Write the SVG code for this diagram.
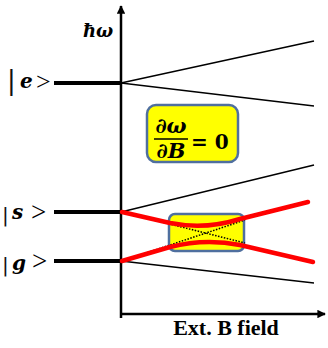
<svg xmlns="http://www.w3.org/2000/svg" width="328" height="348" viewBox="0 0 328 348">
<style>
.lbl{font-family:"DejaVu Serif","Liberation Serif",serif;fill:#000}
.bar{font-family:"DejaVu Sans","Liberation Sans",sans-serif;fill:#111}
.gt{font-family:"Liberation Serif","DejaVu Serif",serif;fill:#000}
.bi{font-weight:bold;font-style:italic}
.lvl{stroke:#000;stroke-width:4;fill:none}
.thin{stroke:#000;stroke-width:1.5;fill:none}
.dot{stroke:#000;stroke-width:1.5;stroke-dasharray:1.5 1.5;fill:none}
.red{stroke:#ff0000;stroke-width:4.5;fill:none;stroke-linecap:round;stroke-linejoin:round}
.box{fill:#ffff00;stroke:#4f6f9f;stroke-width:2.5}
.axis{stroke:#000;stroke-width:2.5;fill:none}
</style>
<defs>
<marker id="arr" viewBox="0 0 10 10" refX="9" refY="5" markerWidth="3.4" markerHeight="3.4" orient="auto" markerUnits="strokeWidth">
<path d="M0,0 L10,5 L0,10 z" fill="#000"/>
</marker>
</defs>
<rect width="328" height="348" fill="#fff"/>
<g id="axes">
<line class="axis" x1="121" y1="318" x2="121" y2="6" marker-end="url(#arr)"/>
<line class="axis" x1="120" y1="314" x2="325" y2="314" marker-end="url(#arr)"/>
<text class="lbl bi" x="83" y="37" font-size="18">ħω</text>
<text class="gt" x="226" y="335" font-size="22" font-weight="bold" text-anchor="middle">Ext. B field</text>
</g>
<g id="box-small">
<rect class="box" x="169" y="214" width="75" height="37" rx="6"/>
</g>
<g id="level-e">
<line class="lvl" x1="54" y1="83" x2="121" y2="83"/>
<text y="89"><tspan class="bar" x="7" font-size="26">|</tspan><tspan class="lbl bi" x="20" y="88" font-size="20">e</tspan><tspan class="gt" x="36" y="90" font-size="26">&gt;</tspan></text>
</g>
<g id="level-s">
<line class="lvl" x1="54" y1="212" x2="121" y2="212"/>
<text y="222"><tspan class="bar" x="2" font-size="20">|</tspan><tspan class="lbl bi" x="12" y="219" font-size="20">s</tspan><tspan class="gt" x="31" y="221" font-size="27">&gt;</tspan></text>
</g>
<g id="level-g">
<line class="lvl" x1="54" y1="261" x2="121" y2="261"/>
<text y="272"><tspan class="bar" x="2" font-size="20">|</tspan><tspan class="lbl bi" x="12" y="270" font-size="20">g</tspan><tspan class="gt" x="32" y="270" font-size="27">&gt;</tspan></text>
</g>
<g id="connectors">
<line class="thin" x1="121" y1="83" x2="314" y2="41"/>
<line class="thin" x1="121" y1="83" x2="314" y2="106"/>
<line class="thin" x1="121" y1="212" x2="314" y2="165"/>
<line class="thin" x1="121" y1="261" x2="314" y2="283"/>
<line class="dot" x1="122" y1="212" x2="245" y2="243"/>
<line class="dot" x1="122" y1="261" x2="245" y2="220"/>
<path class="red" d="M122,212 L170,223 Q205,230 240,219 L308,202"/>
<path class="red" d="M122,261 L170,247 Q205,238 240,245 L313,262"/>
</g>
<g id="box-derivative">
<rect class="box" x="147" y="105" width="91" height="57" rx="9"/>
<text class="lbl bi" x="171" y="133" font-size="21" text-anchor="middle">∂ω</text>
<line x1="154" y1="139" x2="188" y2="139" stroke="#000" stroke-width="1.5"/>
<text class="lbl bi" x="171" y="158" font-size="21" text-anchor="middle">∂B</text>
<text class="lbl" x="191" y="149" font-size="20" font-weight="bold">= 0</text>
</g>
</svg>
